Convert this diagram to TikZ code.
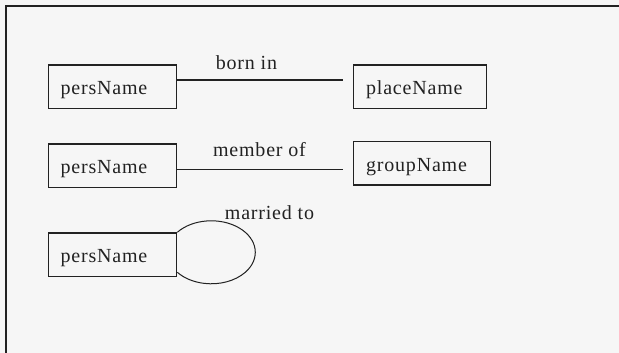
\documentclass[tikz,border=0pt]{standalone}
\usepackage{fontspec}
\setmainfont{Liberation Serif}[LetterSpace=4]
\usepackage{tikz}
\usetikzlibrary{calc}

\definecolor{paper}{RGB}{246,246,246}
\definecolor{ink}{RGB}{34,34,34}

\begin{document}
\begin{tikzpicture}[x=1pt, y=-1pt, font=\fontsize{20pt}{22pt}\selectfont, ink,
		elbox/.style={draw=ink, line width=1.3pt, anchor=north west, minimum height=43.4pt,
			text height=16pt, text depth=0pt, inner ysep=0pt, inner xsep=12pt, align=left},
		link/.style={draw=ink, line width=1.3pt},
		frame/.style={draw=ink, line width=2pt}]
	
	% Canvas
	\fill[paper] (0,0) rectangle (619,353);
	\useasboundingbox (0,0) rectangle (619,353);
	\draw[frame] (619,6.5) -- (6,6.5) -- (6,353);
	
	% === LEFT COLUMN ===
	\foreach \i/\y in {1/64.3, 2/143.3, 3/232.3} {
		\node[elbox, text width=104pt] (pers\i) at (48,\y) {persName};
	}
	
	% === RIGHT COLUMN ===
	\node[elbox, text width=107pt, inner xsep=13pt] (place) at (352.5,64.3) {placeName};
	\node[elbox, text width=111pt, inner xsep=13pt] (group) at (352.5,141) {groupName};
	
	% === RELATIONS ===
	\coordinate (bornend) at ($(place.west)+(-9.5,-6.7)$);
	\draw[link] (pers1.east |- bornend) -- (bornend);
	\node[anchor=base] (bornlbl) at (246.5,70) {born in};
	
	\coordinate (memberend) at ($(group.west)+(-9.5,5.9)$);
	\draw[link] (pers2.east |- memberend) -- (memberend);
	\node[anchor=base] (memberlbl) at (259.5,156.7) {member of};
	
	% self loop
	\draw[link, line width=1pt] (pers3.north east)
		arc[start angle=219.4, end angle=500.6, x radius=44, y radius=31.5];
	\node[anchor=base] (marriedlbl) at (269.5,219.5) {married to};
	
\end{tikzpicture}
\end{document}
